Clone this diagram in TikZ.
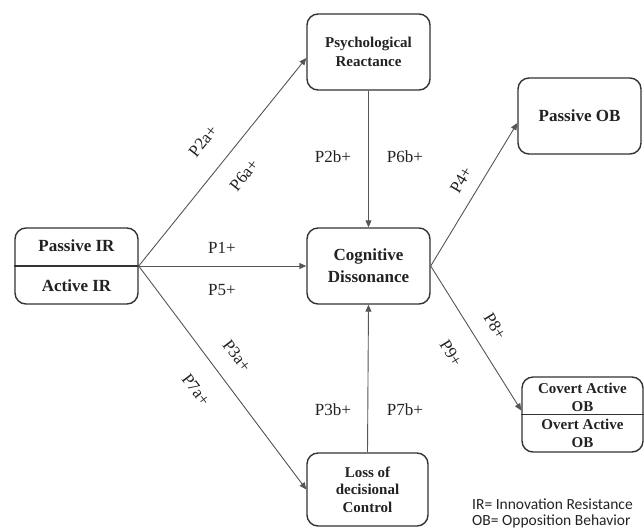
\documentclass[tikz,border=0pt]{standalone}
\usepackage{fontspec}
\setmainfont{Liberation Serif}
\newfontfamily\legendfont{Carlito}
\usetikzlibrary{arrows.meta,calc}
\definecolor{boxc}{HTML}{333333}
\definecolor{arrc}{HTML}{555555}
\definecolor{txt}{HTML}{222222}
\begin{document}
\begin{tikzpicture}[x=1pt,y=-1pt,
  box/.style={draw=boxc, line width=1.4pt, rounded corners=11pt, fill=white,
    align=center, text=txt, inner sep=0pt, minimum width=123pt, minimum height=76pt},
  bigtxt/.style={font=\bfseries\fontsize{17}{22}\selectfont},
  smalltxt/.style={font=\bfseries\fontsize{15}{19}\selectfont},
  divider/.style={draw=boxc, line width=1.4pt},
  conn/.style={draw=arrc, line width=0.9pt, -{Triangle[length=7pt,width=6pt]}},
  lab/.style={font=\fontsize{17}{20}\selectfont, text=txt, inner sep=0pt},
  legend/.style={font=\legendfont\fontsize{15.5}{17}\selectfont, text=txt, anchor=west, inner sep=0pt}]
\useasboundingbox (0,0) rectangle (644,528);

% boxes
\node[box] (ir) at (76.5,266) {};
\draw[divider] (ir.west) -- (ir.east);
\node[bigtxt, text=txt] (irp) at (76.5,246) {Passive IR};
\node[bigtxt, text=txt] (ira) at (76.5,286) {Active IR};

\node[box, smalltxt] (psy) at (368.5,52) {Psychological\\Reactance};
\node[box, bigtxt] (cog) at (368.5,266) {Cognitive\\Dissonance};
\node[box, bigtxt] (pob) at (579.5,116) {Passive OB};
\node[box, font=\bfseries\fontsize{15}{17.5}\selectfont, minimum width=121pt, minimum height=73pt] (loss) at (367.5,489.5) {Loss of\\decisional\\Control};

\node[box, minimum width=121pt, minimum height=75pt] (cov) at (582.5,414.5) {};
\draw[divider] (cov.west) -- (cov.east);
\node[font=\bfseries\fontsize{15}{18}\selectfont, align=center, text=txt] (covt) at (582.5,397) {Covert Active\\OB};
\node[font=\bfseries\fontsize{15}{18}\selectfont, align=center, text=txt] (ovt) at (582.5,433) {Overt Active\\OB};

% connectors
\draw[conn] (ir.east) -- ([yshift=-6pt]psy.west);
\draw[conn] (ir.east) -- (cog.west);
\draw[conn] (ir.east) -- (loss.west);
\draw[conn] (psy.south) -- (cog.north);
\draw[conn] (loss.north) -- (cog.south);
\draw[conn] (cog.east) -- ([yshift=-7pt]pob.west);
\draw[conn] (cog.east) -- ([yshift=4pt]cov.west);

% labels
\node[lab, rotate=51.6] (l2a) at (203,141) {P2a+};
\node[lab, rotate=51.6] (l6a) at (244,175) {P6a+};
\node[lab] (l1) at (222,248) {P1+};
\node[lab] (l5) at (222,290) {P5+};
\node[lab, rotate=-52.7] (l3a) at (237,356) {P3a+};
\node[lab, rotate=-52.7] (l7a) at (196,390) {P7a+};
\node[lab] (l2b) at (333,157) {P2b+};
\node[lab] (l6b) at (405,157) {P6b+};
\node[lab] (l3b) at (333,410) {P3b+};
\node[lab] (l7b) at (405,410) {P7b+};
\node[lab, rotate=59.4] (l4) at (461,180) {P4+};
\node[lab, rotate=-58.6] (l8) at (495,326) {P8+};
\node[lab, rotate=-58.6] (l9) at (451,353) {P9+};

% legend
\node[legend] (lg1) at (472,504) {IR= Innovation Resistance};
\node[legend] (lg2) at (472,521) {OB= Opposition Behavior};
\end{tikzpicture}
\end{document}
